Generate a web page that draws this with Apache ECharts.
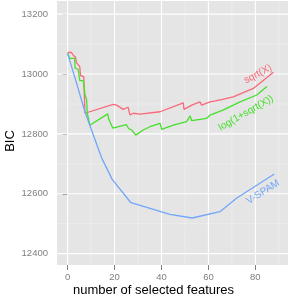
<!DOCTYPE html>
<html><head><meta charset="utf-8">
<script src="https://cdn.jsdelivr.net/npm/echarts@6/dist/echarts.min.js"></script>
<style>html,body{margin:0;padding:0;background:#fff}#c{width:292px;height:297px}</style>
</head><body><div id="c"></div>
<script>
// Data
const sqrtX_x = [0,1.7,2.4,3.4,3.8,5.2,5.5,6.9,7.4,19.4,20.9,23.7,25.8,26.6,28,30.9,39.4,49.3,49.6,52.9,56.4,57.1,60.7,63,66,70.6,79.1,87.7];
const sqrtX_y = [13072,13072,13063,13056,13038,13025,12995,12991,12869,12899,12896,12882,12889,12863,12869,12866,12874,12904,12882,12896,12907,12896,12907,12910,12915,12924,12952,13006];
const log1_x = [0,1,3,3.2,4.5,5.2,6.7,7.4,8.1,8.4,9.5,17.1,17.6,19.3,25,26,27.3,29.1,32.2,35.1,39.4,40.1,45,50.7,52.2,52.9,59.3,60.7,66.4,73.5,80.6,84.9];
const log1_y = [13069,13052,13052,13020,13016,12978,12978,12932,12915,12869,12829,12867,12848,12819,12831,12818,12813,12796,12813,12824,12835,12815,12829,12841,12860,12844,12852,12863,12880,12907,12930,12958];
const vspam_x = [0,3.7,7.4,10.9,14.5,19,27,43.6,53.1,64.9,72.1,88.1];
const vspam_y = [13069,12973,12874,12798,12720,12648,12570,12531,12519,12540,12586,12666];
const xTicks = [0,20,40,60,80];
const xMinor = [10,30,50,70,90];
const yTicks = [12400,12600,12800,13000,13200];
const yMinor = [12500,12700,12900,13100];

const zip = (a,b)=>a.map((v,i)=>[v,b[i]]);
const chart = echarts.init(document.getElementById('c'));
const lineStyle = (c)=>({color:c,width:1.3});
const fmt = v => String(v);
// grid line renderer: dim 0 = 'v' lines at x, dim 1 = 'h' lines at y
function gridRenderer(vertical, color, width) {
  return function(params, api) {
    const cs = params.coordSys;
    const v = api.value(0);
    let x1,y1,x2,y2;
    if (vertical) {
      const p = api.coord([v, 12800]);
      x1 = x2 = p[0]; y1 = cs.y; y2 = cs.y + cs.height;
    } else {
      const p = api.coord([40, v]);
      y1 = y2 = p[1]; x1 = cs.x; x2 = cs.x + cs.width;
    }
    return {type:'line', shape:{x1,y1,x2,y2}, style:{stroke:color, lineWidth:width}, silent:true};
  };
}
const gridSeries = (vals, vertical, color, width) => ({
  type:'custom', z:1, silent:true, clip:true,
  encode: vertical ? {x:0} : {y:0},
  data: vals.map(v=>[v]),
  renderItem: gridRenderer(vertical, color, width)
});
chart.setOption({
  animation:false,
  grid:{left:57, right:4, top:1, bottom:32, show:true, backgroundColor:'#E5E5E5', borderWidth:0},
  xAxis:{type:'value', min:-4.5, max:93.9,
    axisLine:{show:false}, splitLine:{show:false},
    axisTick:{show:true, length:5, customValues:xTicks, lineStyle:{color:'#7F7F7F'}},
    axisLabel:{customValues:xTicks, formatter:fmt, color:'#7F7F7F', fontSize:9.5, fontFamily:'Liberation Sans', margin:7}},
  yAxis:{type:'value', min:12362, max:13244,
    axisLine:{show:false}, splitLine:{show:false},
    axisTick:{show:true, length:5, customValues:yTicks, lineStyle:{color:'#7F7F7F'}},
    axisLabel:{customValues:yTicks, formatter:fmt, color:'#7F7F7F', fontSize:9.5, fontFamily:'Liberation Sans', margin:9}},
  series:[
    gridSeries(xMinor, true, '#F2F2F2', 0.6),
    gridSeries(yMinor, false, '#F2F2F2', 0.6),
    gridSeries(xTicks, true, '#FFFFFF', 1.1),
    gridSeries(yTicks, false, '#FFFFFF', 1.1),
    {name:'sqrt(X)', type:'line', z:3, symbol:'none', data:zip(sqrtX_x,sqrtX_y), lineStyle:lineStyle('#F8697A')},
    {name:'log(1+sqrt(X))', type:'line', z:3, symbol:'none', data:zip(log1_x,log1_y), lineStyle:lineStyle('#44E02A')},
    {name:'V-SPAM', type:'line', z:3, symbol:'none', data:zip(vspam_x,vspam_y), lineStyle:lineStyle('#72A6F7')}
  ],
  graphic:[
    {type:'text', x:153.5, y:290, style:{text:'number of selected features', font:'13px "Liberation Sans"', fill:'#000', align:'center', verticalAlign:'middle'}},
    {type:'text', x:10, y:141, rotation:Math.PI/2, style:{text:'BIC', font:'13px "Liberation Sans"', fill:'#000', align:'center', verticalAlign:'middle'}},
    {type:'text', x:258, y:74, rotation:0.49, z:10, style:{text:'sqrt(X)', font:'10px "Liberation Sans"', fill:'#F8697A', align:'center', verticalAlign:'middle'}},
    {type:'text', x:246, y:113, rotation:0.52, z:10, style:{text:'log(1+sqrt(X))', font:'10px "Liberation Sans"', fill:'#44E02A', align:'center', verticalAlign:'middle'}},
    {type:'text', x:263, y:192, rotation:0.56, z:10, style:{text:'V-SPAM', font:'10px "Liberation Sans"', fill:'#72A6F7', align:'center', verticalAlign:'middle'}}
  ]
});
</script></body></html>
